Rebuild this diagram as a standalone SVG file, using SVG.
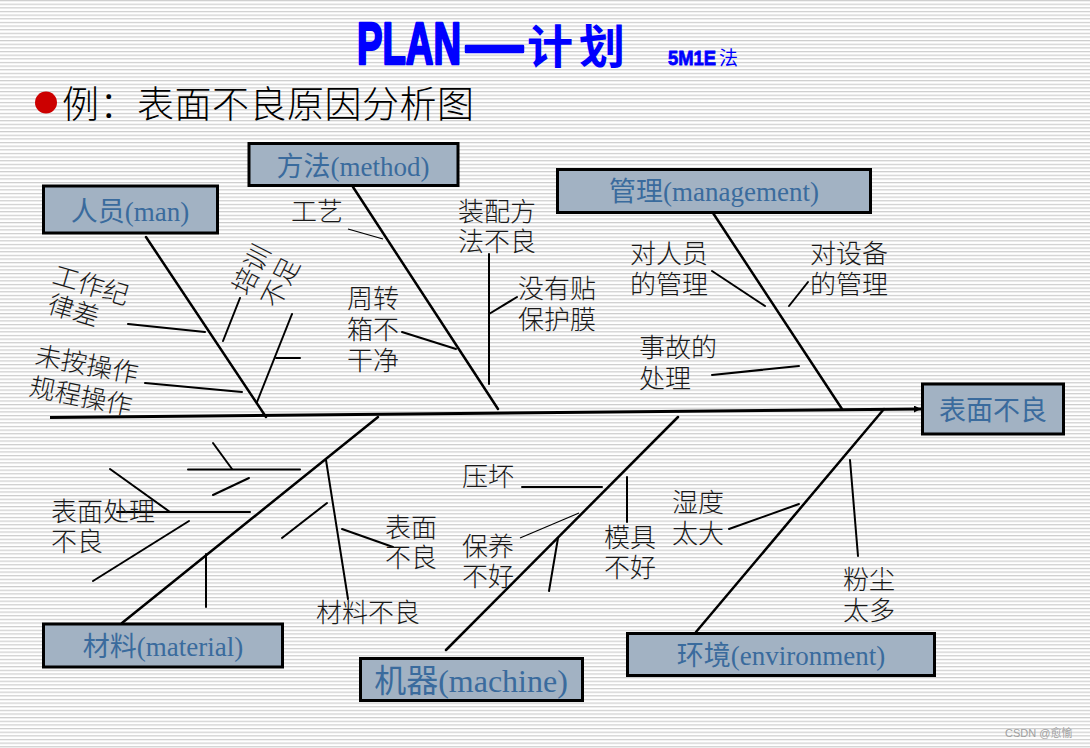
<svg xmlns="http://www.w3.org/2000/svg" width="1090" height="748" viewBox="0 0 1090 748">
<defs>
<pattern id="stripes" patternUnits="userSpaceOnUse" x="0" y="0" width="20" height="3.64">
<rect x="0" y="0" width="20" height="3.64" fill="#ffffff"/>
<rect x="0" y="0" width="20" height="1.2" fill="#cdcdcd"/>
</pattern>
<marker id="arrow" viewBox="0 0 10 10" refX="10" refY="5" markerWidth="9" markerHeight="7" markerUnits="userSpaceOnUse" orient="auto">
<path d="M0,0 L10,5 L0,10 z" fill="#000"/>
</marker>
</defs>
<style>
.box rect{fill:#a2b2c3;stroke:#000;stroke-width:3}
.box text{font-family:"Liberation Serif","Noto Sans CJK SC",serif;font-size:27px;fill:#3a6b9d;text-anchor:middle}
.lbl{font-family:"Noto Sans CJK SC",sans-serif;font-size:26px;font-weight:300;fill:#1a1a1a}
.bone{stroke:#000;stroke-width:2.5;fill:none;stroke-linecap:round}
.sub{stroke:#000;stroke-width:2;fill:none;stroke-linecap:round}
.thin{stroke:#000;stroke-width:1.2;fill:none}
.blue{fill:#0000ff}
.heavy{stroke:#0000ff;stroke-width:2.6;stroke-linejoin:round}
</style>
<rect x="0" y="0" width="1090" height="748" fill="url(#stripes)"/>

<g id="title">
<text class="blue heavy" x="357" y="64" font-family="Liberation Sans,sans-serif" font-weight="bold" font-size="59" textLength="104" lengthAdjust="spacingAndGlyphs">PLAN</text>
<text class="blue heavy" x="466" y="65" font-family="Liberation Sans,sans-serif" font-weight="bold" font-size="60" textLength="57" lengthAdjust="spacingAndGlyphs">—</text>
<text class="blue" x="527" y="63" font-family="Noto Sans CJK SC,sans-serif" font-weight="bold" font-size="46" letter-spacing="6">计划</text>
<text class="blue" x="668" y="65" stroke="#0000ff" stroke-width="0.8" font-family="Liberation Sans,sans-serif" font-weight="bold" font-size="21" textLength="48" lengthAdjust="spacingAndGlyphs">5M1E</text>
<text class="blue" x="719" y="65" font-family="Noto Sans CJK SC,sans-serif" font-size="19">法</text>
</g>

<g id="subtitle">
<circle cx="46" cy="102.5" r="11" fill="#cc0000"/>
<text x="62" y="118" font-family="Noto Sans CJK SC,sans-serif" font-size="37" font-weight="300" letter-spacing="0.5" fill="#000">例：表面不良原因分析图</text>
</g>

<g id="connectors">
<line x1="50" y1="417.5" x2="921" y2="409" stroke="#000" stroke-width="3" marker-end="url(#arrow)"/>
<line class="bone" x1="146" y1="237" x2="266" y2="417"/>
<line class="bone" x1="353" y1="187" x2="498" y2="409"/>
<line class="bone" x1="713" y1="213" x2="842" y2="409"/>
<line class="bone" x1="122" y1="623" x2="378" y2="417"/>
<line class="bone" x1="446" y1="650" x2="678" y2="417"/>
<line class="bone" x1="696" y1="632" x2="884" y2="409"/>

<line class="sub" x1="128" y1="324" x2="205" y2="332"/>
<line class="sub" x1="145" y1="383" x2="242" y2="392"/>
<line class="sub" x1="223" y1="341" x2="240" y2="298"/>
<line class="sub" x1="257" y1="402" x2="292" y2="314"/>
<line class="sub" x1="276" y1="358" x2="300" y2="358"/>

<line class="thin" x1="348" y1="229" x2="383" y2="239"/>
<line class="sub" x1="402" y1="332" x2="456" y2="349"/>
<line class="sub" x1="489" y1="254" x2="489" y2="384"/>
<line class="sub" x1="489" y1="314" x2="517" y2="297"/>

<line class="sub" x1="712" y1="271" x2="765" y2="306"/>
<line class="sub" x1="808" y1="282" x2="789" y2="306"/>
<line class="sub" x1="712" y1="375" x2="799" y2="366"/>

<line class="sub" x1="213" y1="443" x2="232" y2="469"/>
<line class="sub" x1="188" y1="469.5" x2="300" y2="469.5"/>
<line class="sub" x1="213" y1="495" x2="249" y2="478"/>
<line class="sub" x1="110" y1="469" x2="170" y2="512"/>
<line class="sub" x1="117" y1="512" x2="250" y2="512"/>
<line class="sub" x1="93" y1="581" x2="189" y2="521"/>
<line class="sub" x1="206" y1="554" x2="206" y2="607"/>
<line class="sub" x1="326" y1="460" x2="348" y2="599"/>
<line class="sub" x1="282" y1="538" x2="327" y2="503"/>
<line class="sub" x1="342" y1="529" x2="393" y2="547"/>

<line class="sub" x1="522" y1="487" x2="602" y2="487"/>
<line class="thin" x1="520" y1="538" x2="579" y2="513"/>
<line class="sub" x1="558" y1="538" x2="549" y2="591"/>
<line class="sub" x1="627" y1="477" x2="627" y2="522"/>

<line class="sub" x1="729" y1="529" x2="799" y2="504"/>
<line class="sub" x1="850" y1="460" x2="858" y2="556"/>
</g>

<g id="effect" class="box"><rect x="922.5" y="384" width="141" height="50"/><text x="993" y="420">表面不良</text></g>
<g id="man" class="box"><rect x="43.5" y="186" width="174" height="47"/><text x="130" y="221">人员(man)</text></g>
<g id="method" class="box"><rect x="249" y="143.5" width="209" height="42"/><text x="353" y="176">方法(method)</text></g>
<g id="management" class="box"><rect x="557.5" y="169.5" width="313" height="43"/><text x="714" y="201">管理(management)</text></g>
<g id="material" class="box"><rect x="43.5" y="624" width="239" height="43"/><text x="163" y="656">材料(material)</text></g>
<g id="machine" class="box"><rect x="360.5" y="658.5" width="222" height="42"/><text x="471" y="692" style="font-size:32px">机器(machine)</text></g>
<g id="environment" class="box"><rect x="627.5" y="633.5" width="307" height="42"/><text x="781" y="665">环境(environment)</text></g>

<g id="c-discipline" class="lbl">
<text transform="translate(51,283) rotate(16.5)">工作纪</text>
<text transform="translate(46,312) rotate(16.5)">律差</text>
</g>
<g id="c-operation" class="lbl">
<text transform="translate(34,364) rotate(10.7)">未按操作</text>
<text transform="translate(28,395) rotate(11.5)">规程操作</text>
</g>
<g id="c-training" class="lbl">
<text transform="translate(248,297) rotate(-63)">培训</text>
<text transform="translate(277,310) rotate(-63)">不足</text>
</g>
<g id="c-process" class="lbl"><text x="291" y="221">工艺</text></g>
<g id="c-box" class="lbl"><text x="347" y="308">周转</text><text x="347" y="339">箱不</text><text x="347" y="370">干净</text></g>
<g id="c-assembly" class="lbl"><text x="458" y="221">装配方</text><text x="458" y="251">法不良</text></g>
<g id="c-film" class="lbl"><text x="518" y="298">没有贴</text><text x="518" y="329">保护膜</text></g>
<g id="c-people-mgmt" class="lbl"><text x="630" y="263">对人员</text><text x="630" y="294">的管理</text></g>
<g id="c-equip-mgmt" class="lbl"><text x="810" y="263">对设备</text><text x="810" y="294">的管理</text></g>
<g id="c-accident" class="lbl"><text x="639" y="357">事故的</text><text x="639" y="388">处理</text></g>
<g id="c-surface-treat" class="lbl"><text x="51" y="521">表面处理</text><text x="51" y="551">不良</text></g>
<g id="c-surface" class="lbl"><text x="385" y="537">表面</text><text x="385" y="567">不良</text></g>
<g id="c-material-bad" class="lbl"><text x="316" y="622">材料不良</text></g>
<g id="c-crush" class="lbl"><text x="462" y="486">压坏</text></g>
<g id="c-maintenance" class="lbl"><text x="462" y="556">保养</text><text x="462" y="586">不好</text></g>
<g id="c-mold" class="lbl"><text x="604" y="547">模具</text><text x="604" y="577">不好</text></g>
<g id="c-humidity" class="lbl"><text x="672" y="512">湿度</text><text x="672" y="543">太大</text></g>
<g id="c-dust" class="lbl"><text x="843" y="589">粉尘</text><text x="843" y="620">太多</text></g>

<text x="1005" y="737" font-family="Liberation Sans,Noto Sans CJK SC,sans-serif" font-size="11" fill="#a0a0a0">CSDN @愈愉</text>
</svg>
